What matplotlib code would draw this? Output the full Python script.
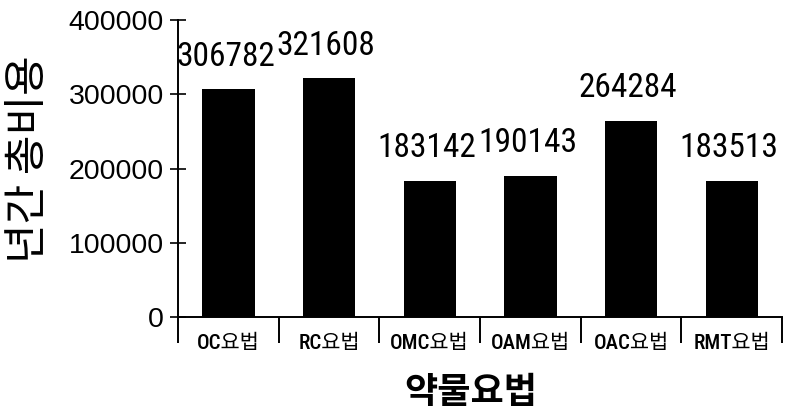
import numpy as np
import matplotlib
matplotlib.use("Agg")
import matplotlib.pyplot as plt

# data
therapies = ['OC요법', 'RC요법', 'OMC요법', 'OAM요법', 'OAC요법', 'RMT요법']
annual_cost = [306782, 321608, 183142, 190143, 264284, 183513]
y_ticks = [0, 100000, 200000, 300000, 400000]

ko = ['Noto Sans CJK KR', 'DejaVu Sans']
cat_font = ['Roboto Condensed', 'Noto Sans CJK KR', 'DejaVu Sans']
num_font = ['Roboto Condensed', 'Liberation Sans', 'DejaVu Sans']

fig = plt.figure(figsize=(7.88, 4.17), dpi=100)
ax = fig.add_axes([0.2259, 0.2398, 0.7665, 0.7122])

x = np.arange(len(therapies))
ax.bar(x, annual_cost, width=0.52, color='black')

# value labels above bars
for xi, v in zip(x, annual_cost):
    ax.annotate(str(v), (xi, v), textcoords='offset points', xytext=(-2, 12),
                ha='center', va='bottom', fontsize=24, family=num_font)

ax.set_xlim(-0.5, len(therapies) - 0.5)
ax.set_ylim(0, 400000)

for s in ['top', 'right']:
    ax.spines[s].set_visible(False)
ax.spines['left'].set_linewidth(1.4)
ax.spines['bottom'].set_linewidth(1.4)

# y axis
ax.set_yticks(y_ticks)
ax.set_yticklabels([str(t) for t in y_ticks], fontsize=20.5, family='Liberation Sans')
ax.tick_params(axis='y', direction='inout', length=12, width=1.2, pad=4)

# x axis: labels at centers, separator ticks at boundaries
ax.set_xticks(x)
ax.set_xticklabels(therapies, fontsize=15, fontweight='medium', family=cat_font)
ax.tick_params(axis='x', which='major', length=0, pad=12)
ax.set_xticks(np.arange(len(therapies) + 1) - 0.5, minor=True)
ax.tick_params(axis='x', which='minor', direction='out', length=19, width=1.4)

fig.text(0.037, 0.618, '년간 총비용', rotation=90, ha='center', va='center',
         fontsize=31, family=ko)
fig.text(0.598, 0.058, '약물요법', ha='center', va='center',
         fontsize=26, fontweight='bold', family=ko)

fig.savefig('out.png', dpi=100)
